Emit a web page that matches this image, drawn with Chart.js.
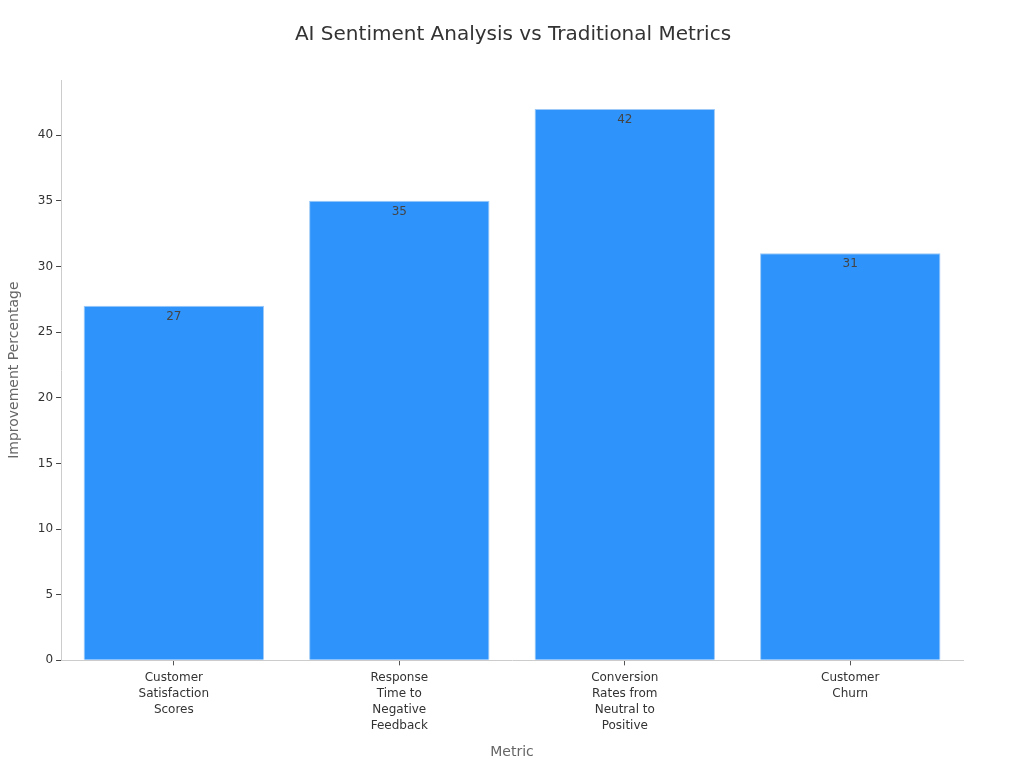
<!DOCTYPE html>
<html>
<head>
<meta charset="utf-8">
<script src="https://cdn.jsdelivr.net/npm/chart.js@4/dist/chart.umd.min.js"></script>
<style>
  html, body { margin: 0; padding: 0; background: #fff; }
  #wrap { width: 1024px; height: 768px; }
</style>
</head>
<body>
<div id="wrap"><canvas id="myChart"></canvas></div>
<script>
const categories = [
    ["Customer", "Satisfaction", "Scores"],
    ["Response", "Time to", "Negative", "Feedback"],
    ["Conversion", "Rates from", "Neutral to", "Positive"],
    ["Customer", "Churn"]
];
const improvement = [27, 35, 42, 31];
const yTicks = [0, 5, 10, 15, 20, 25, 30, 35, 40];

// draws the value just inside the top of each bar
const barLabels = {
    id: 'barLabels',
    afterDatasetsDraw(chart) {
        const ctx = chart.ctx;
        const meta = chart.getDatasetMeta(0);
        ctx.save();
        ctx.font = '12px "DejaVu Sans"';
        ctx.fillStyle = '#444';
        ctx.textAlign = 'center';
        ctx.textBaseline = 'top';
        meta.data.forEach((bar, i) => {
            ctx.fillText(String(improvement[i]), bar.x, bar.y + 5);
        });
        ctx.restore();
    }
};

Chart.defaults.font.family = '"DejaVu Sans", sans-serif';

let chart = new Chart("myChart", {
    type: "bar",
    data: {
        labels: categories,
        datasets: [{
            data: improvement,
            backgroundColor: "#2e93fa",
            borderColor: "#9cc9f7",
            borderWidth: 1,
            barPercentage: 0.8,
            categoryPercentage: 1.0
        }]
    },
    options: {
        responsive: true,
        maintainAspectRatio: false,
        animation: false,
        layout: { padding: { left: 2, right: 0, top: 10, bottom: 3 } },
        plugins: {
            legend: { display: false },
            tooltip: { enabled: false },
            title: {
                display: true,
                text: "AI Sentiment Analysis vs Traditional Metrics",
                color: "#333",
                font: { size: 20, weight: 'normal' },
                padding: { top: 13, bottom: 33 }
            }
        },
        scales: {
            x: {
                grid: { display: true, offset: false, drawOnChartArea: false, drawTicks: true, tickLength: 5, tickColor: '#555' },
                border: { display: true, color: '#ccc' },
                ticks: { color: '#333', font: { size: 12, lineHeight: 1.33 }, maxRotation: 0, padding: 5 },
                title: { display: true, text: "Metric", color: '#666', font: { size: 14 }, padding: { top: 5 } }
            },
            y: {
                min: 0,
                max: 44.2,
                afterBuildTicks: (axis) => { axis.ticks = yTicks.map(v => ({ value: v })); },
                grid: { display: true, drawOnChartArea: false, drawTicks: true, tickLength: 5, tickColor: '#444' },
                border: { display: true, color: '#ccc' },
                ticks: { color: '#333', font: { size: 12 }, padding: 3 },
                title: { display: true, text: "Improvement Percentage", color: '#666', font: { size: 14 }, padding: { bottom: 12 } }
            },
            // empty right axis, only reserves space so the plot ends where the reference does
            yRight: {
                position: 'right',
                display: true,
                grid: { display: false },
                border: { display: false },
                ticks: { display: false },
                afterFit: (axis) => { axis.width = 61; }
            }
        }
    },
    plugins: [barLabels]
});
</script>
</body>
</html>
